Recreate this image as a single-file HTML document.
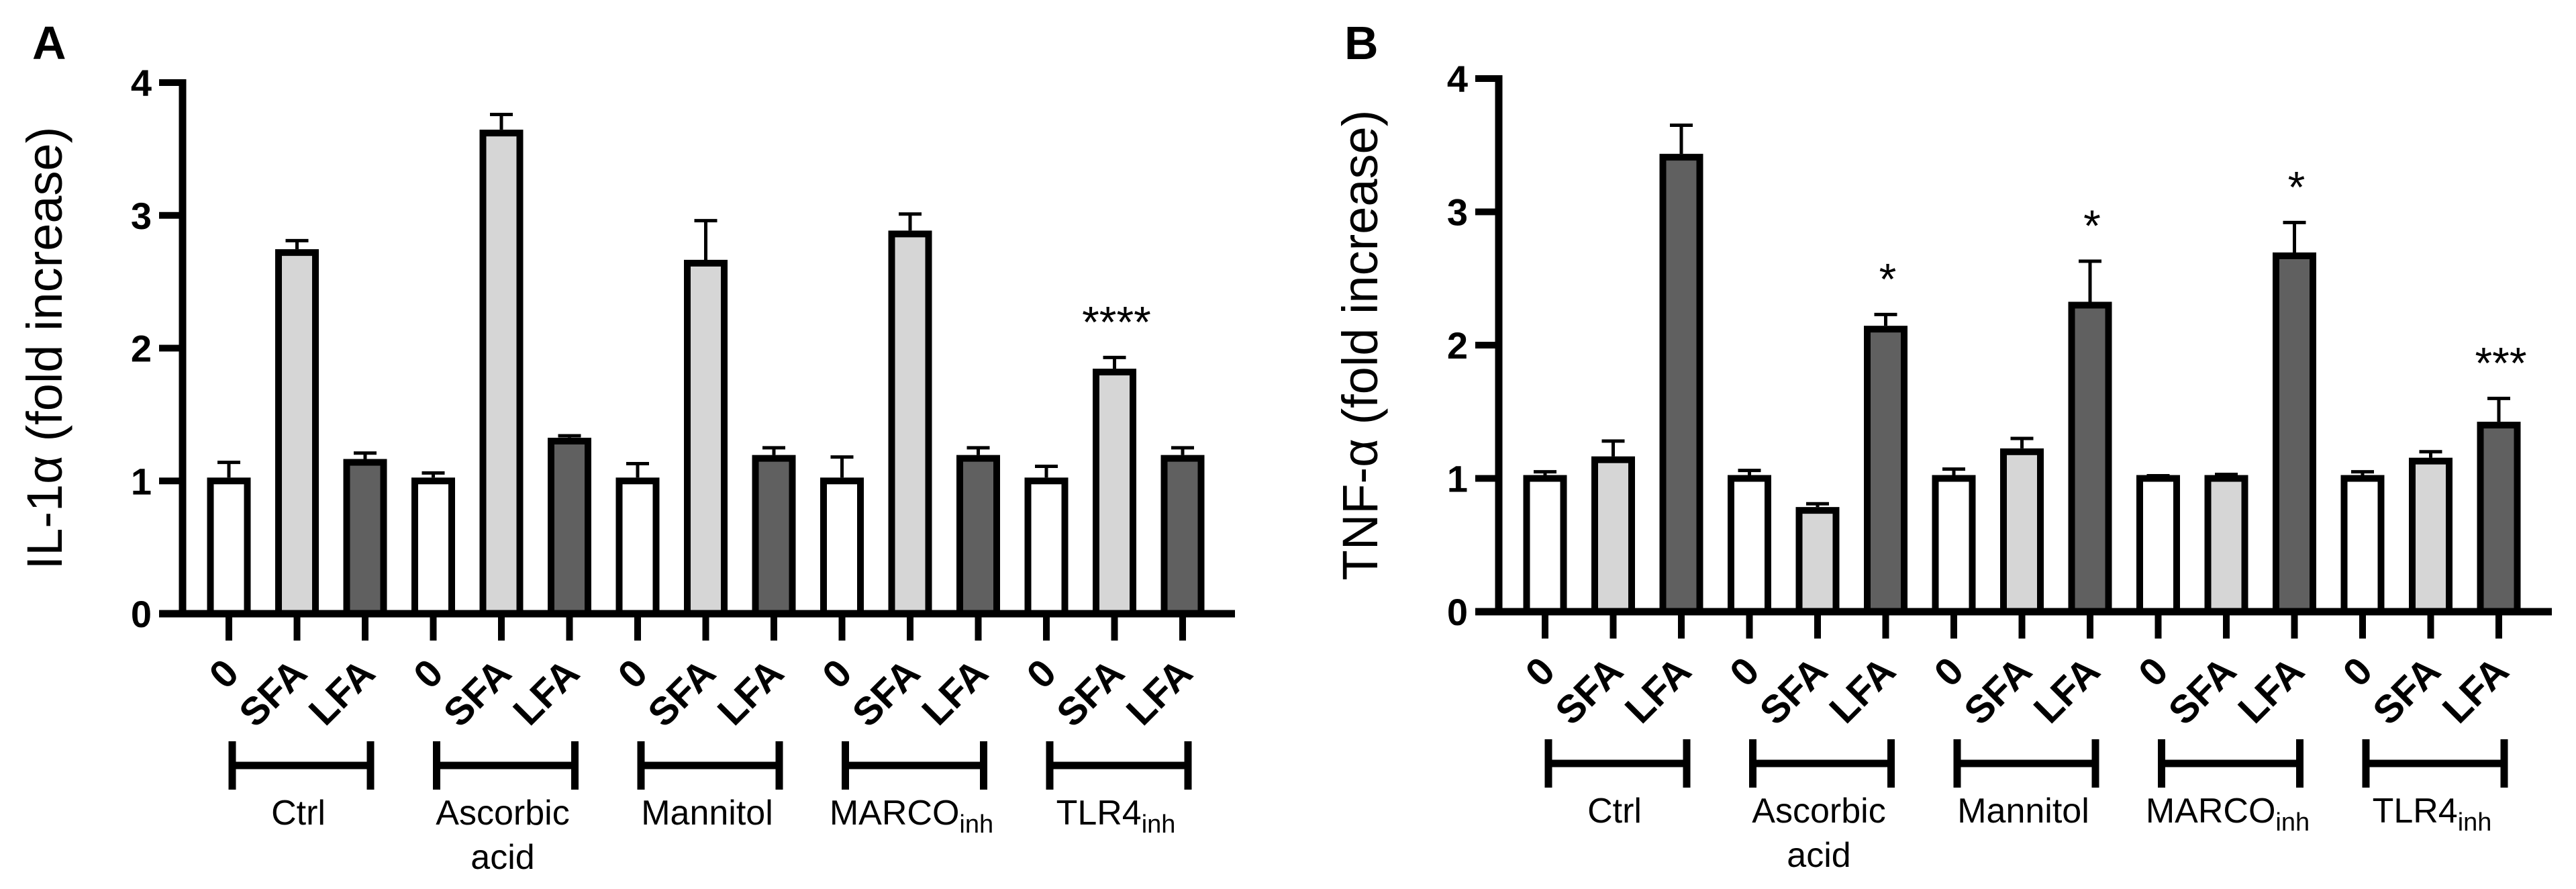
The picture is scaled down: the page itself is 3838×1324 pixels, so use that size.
<!DOCTYPE html>
<html><head><meta charset="utf-8">
<style>
html,body{margin:0;padding:0;background:#fff;}
svg{display:block;font-family:"Liberation Sans",Arial,sans-serif;}
</style></head>
<body>
<svg id="fig" width="3838" height="1324" viewBox="0 0 3838 1324" xmlns="http://www.w3.org/2000/svg">
<rect x="0" y="0" width="3838" height="1324" fill="#fff"/>
</svg>
<script>
const categories = ["Ctrl","Ascorbic acid","Mannitol","MARCO inh","TLR4 inh"];
const treatments = ["0","SFA","LFA"];
const yTicks = [0,1,2,3,4];
// Panel A: IL-1α
const il1Means = [1.0,2.72,1.14, 1.0,3.62,1.30, 1.0,2.64,1.17, 1.0,2.86,1.17, 1.0,1.82,1.17];
const il1Err   = [1.14,2.81,1.21, 1.06,3.76,1.34, 1.13,2.96,1.25, 1.18,3.01,1.25, 1.11,1.93,1.25];
const il1Stars = ["","","", "","","", "","","", "","","", "","****",""];
// Panel B: TNF-α
const tnfMeans = [1.0,1.14,3.41, 1.0,0.76,2.12, 1.0,1.20,2.30, 1.0,1.0,2.67, 1.0,1.13,1.40];
const tnfErr   = [1.05,1.28,3.65, 1.06,0.81,2.23, 1.07,1.30,2.63, 1.02,1.03,2.92, 1.05,1.20,1.60];
const tnfStars = ["","","", "","","*", "","","*", "","","*", "","","***"];

const NS="http://www.w3.org/2000/svg";
const svg=document.getElementById('fig');
const fills=["#ffffff","#d6d6d6","#606060"];
function mk(tag,attrs,parent){const e=document.createElementNS(NS,tag);for(const k in attrs)e.setAttribute(k,attrs[k]);(parent||svg).appendChild(e);return e;}

function panel(cfg){
  const g=mk('g',{});
  
  
  const yScale=v=>cfg.y0-(v/4)*(cfg.y0-cfg.y4);
  const xScale=i=>cfg.x0+i*101.5;
  const L=mk('text',{x:cfg.letterX,y:88,'font-size':70,'font-weight':'bold'},g);
  L.textContent=cfg.letter;
  
  
  const yt=mk('text',{x:0,y:0,'font-size':74,'text-anchor':'middle',transform:`translate(${cfg.titleX},${(cfg.y0+cfg.y4)/2}) rotate(-90)`},g);
  yt.textContent=cfg.title;
  
  
  cfg.means.forEach((m,i)=>{
    const cx=xScale(i), top=yScale(m);
    const b=mk('rect',{x:cx-27.5,y:top,width:55,height:cfg.y0-top,fill:fills[i%3],stroke:'#000','stroke-width':10},g);
    
    
    const et=yScale(cfg.err[i]);
    const e=mk('path',{d:`M${cx},${top-5}V${et}M${cx-17},${et}H${cx+17}`,stroke:'#000','stroke-width':5,fill:'none'},g);
    
    
    if(cfg.stars[i]){
      const s=mk('text',{x:cx+3,y:et-30,'font-size':66,'text-anchor':'middle'},g);
      s.textContent=cfg.stars[i];
      
      
    }
    const t=mk('line',{x1:cx,x2:cx,y1:cfg.y0,y2:cfg.y0+40,stroke:'#000','stroke-width':10},g);
    
    
    const tl=mk('text',{x:0,y:0,'font-size':58,'font-weight':'bold','text-anchor':'end',transform:`translate(${cx+18},${cfg.y0+92}) rotate(-45)`},g);
    tl.textContent=treatments[i%3];
    
    
  });
  const ya=mk('line',{x1:cfg.axX,x2:cfg.axX,y1:cfg.y4-5,y2:cfg.y0+5,stroke:'#000','stroke-width':11},g);
  
  
  const xa=mk('line',{x1:cfg.axX-35,x2:cfg.xEnd,y1:cfg.y0,y2:cfg.y0,stroke:'#000','stroke-width':11},g);
  
  
  yTicks.forEach(v=>{
    const y=yScale(v);
    const tk=mk('line',{x1:cfg.axX-35,x2:cfg.axX,y1:y,y2:y,stroke:'#000','stroke-width':10},g);
    
    
    const tx=mk('text',{x:cfg.axX-46,y:y+20,'font-size':56,'font-weight':'bold','text-anchor':'end'},g);
    tx.textContent=String(v);
    
    
  });
  categories.forEach((c,gi)=>{
    const x1=xScale(gi*3)+5, x2=xScale(gi*3+2)+8, yb=cfg.y0+226;
    const br=mk('path',{d:`M${x1},${yb-36}V${yb+36}M${x1},${yb}H${x2}M${x2},${yb-36}V${yb+36}`,stroke:'#000','stroke-width':11,fill:'none'},g);
    
    
    const cx=(xScale(gi*3)+xScale(gi*3+2))/2+2;
    const gl=mk('text',{x:cx,y:cfg.y0+314,'font-size':52,'text-anchor':'middle'},g);
    
    
    if(c==="Ascorbic acid"){
      const t1=mk('tspan',{x:cx},gl);t1.textContent="Ascorbic";
      const t2=mk('tspan',{x:cx,dy:66},gl);t2.textContent="acid";
    } else if(c.endsWith(" inh")){
      const t1=mk('tspan',{},gl);t1.textContent=c.replace(" inh","");
      const t2=mk('tspan',{'font-size':38,dy:12},gl);t2.textContent="inh";
    } else gl.textContent=c;
  });
}
panel({name:'panel-a-il1a-chart',letter:'A',letterX:48,title:'IL-1α (fold increase)',titleX:92,axX:272,x0:341,xEnd:1840,y0:914,y4:123,means:il1Means,err:il1Err,stars:il1Stars});
panel({name:'panel-b-tnfa-chart',letter:'B',letterX:2003,title:'TNF-α (fold increase)',titleX:2052,axX:2233,x0:2302,xEnd:3802,y0:911,y4:117,means:tnfMeans,err:tnfErr,stars:tnfStars});
</script>
</body></html>
